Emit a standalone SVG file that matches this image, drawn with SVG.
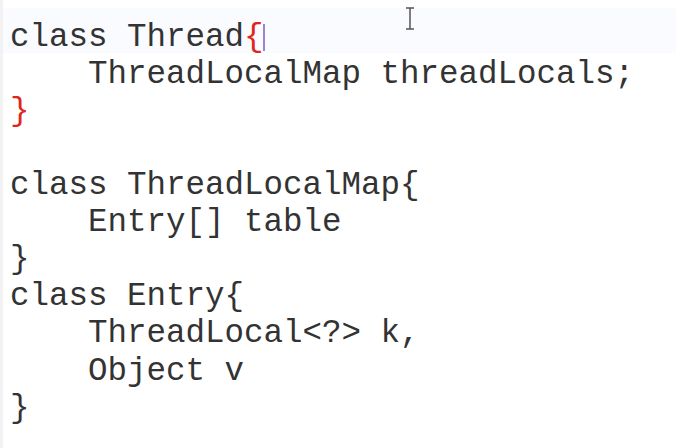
<svg xmlns="http://www.w3.org/2000/svg" width="676" height="448" viewBox="0 0 676 448">
<style>
.code{font-family:"Courier New","Nimbus Mono PS","FreeMono","Liberation Mono",monospace;font-size:32.5px;fill:#333333;white-space:pre}
.red{fill:#e0261c}
</style>
<rect width="676" height="448" fill="#ffffff"/>
<rect x="0" y="0" width="3" height="448" fill="#f2f2f2"/>
<rect x="3" y="8" width="673" height="45" fill="#fafbfe"/>
<g id="thread-class">
<text class="code" x="10" y="46">class Thread<tspan class="red">{</tspan></text>
<text class="code" x="10" y="83">    ThreadLocalMap threadLocals;</text>
<text class="code red" x="10" y="120">}</text>
</g>
<g id="caret">
<line x1="264" y1="24" x2="264" y2="51" stroke="#7a5cc0" stroke-width="1.5"/>
<path d="M406 8h8M410 8v21M406 29h8" stroke="#555" stroke-width="1.5" fill="none"/>
</g>
<g id="threadlocalmap-class">
<text class="code" x="10" y="194">class ThreadLocalMap{</text>
<text class="code" x="10" y="231">    Entry[] table</text>
<text class="code" x="10" y="268">}</text>
</g>
<g id="entry-class">
<text class="code" x="10" y="305">class Entry{</text>
<text class="code" x="10" y="342">    ThreadLocal&lt;?&gt; k,</text>
<text class="code" x="10" y="380">    Object v</text>
<text class="code" x="10" y="417">}</text>
</g>
</svg>
